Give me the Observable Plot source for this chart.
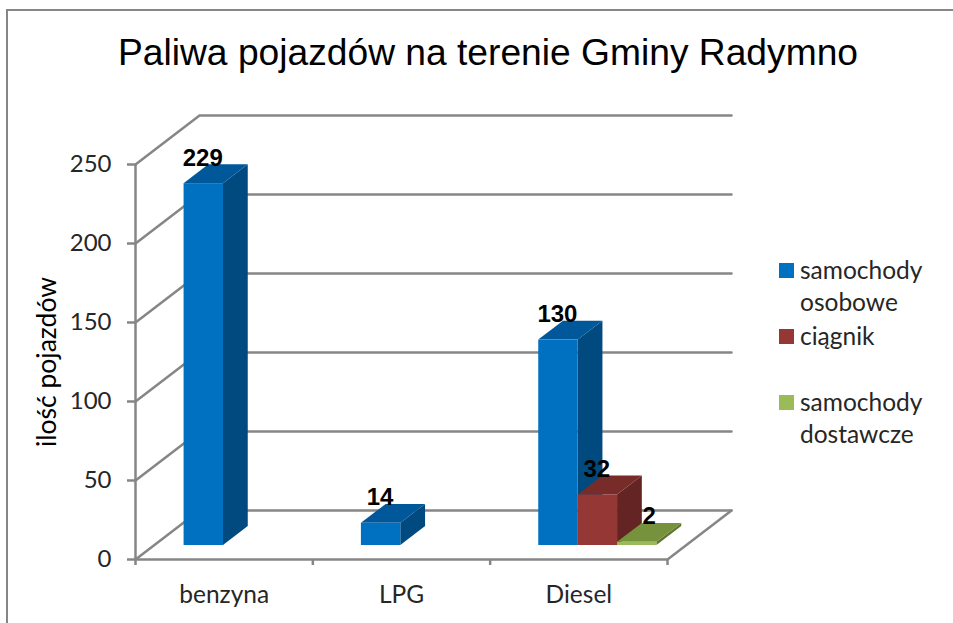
<!DOCTYPE html>
<html lang="pl">
<head>
<meta charset="utf-8">
<script src="https://cdn.jsdelivr.net/npm/d3@7"></script>
<script src="https://cdn.jsdelivr.net/npm/@observablehq/plot@0.6"></script>
<style>
  html, body { margin: 0; padding: 0; background: #fff; }
  #chart { position: relative; width: 953px; height: 623px; overflow: hidden; }
  #frame { position: absolute; left: 6px; top: 9px; width: 960px; height: 640px; box-sizing: border-box;
           border-left: 2.5px solid #868686; border-top: 2.5px solid #868686; }
  #title { position: absolute; left: 0; top: 29px; width: 976px; text-align: center; margin: 0;
           font: 400 37.2px "Liberation Sans", sans-serif; color: #000; line-height: 46px; }
  #legend { position: absolute; left: 779px; top: 254px; }
  .item { display: flex; height: 66px; align-items: flex-start; }
  .sw { width: 15px; height: 15px; margin-top: 9px; flex: none; }
  .lab { margin-left: 6px; font: 400 24.5px/32px Lato, sans-serif; color: #262626; white-space: pre-line; }
  svg { position: absolute; left: 0; top: 0; }
</style>
</head>
<body>
<div id="chart">
  <div id="frame"></div>
  <h1 id="title"></h1>
  <div id="legend"></div>
</div>
<script>
const titleText = "Paliwa pojazdów na terenie Gminy Radymno";
const yLabel = "ilość pojazdów";
const categories = ["benzyna", "LPG", "Diesel"];
const seriesNames = ["samochody\nosobowe", "ciągnik", "samochody\ndostawcze"];
const osobowe = [229, 14, 130];
const ciagnik = [null, null, 32];
const dostawcze = [null, null, 2];
const yTicks = [0, 50, 100, 150, 200, 250];
const frontColors = ["#0070c0", "#953735", "#9bbb59"];
const sideColors = ["#004a80", "#632423", "#5f7530"];
const topColors = ["#00589a", "#772c2a", "#76923c"];

// 3-D projection of the floor depth, in data units
const DX = 0.361, DY = 31;          // shift at the full depth
const D0 = 0.286, D1 = 0.673;       // front and back of the bars
const W = 1 / 4.5;                  // bar width, gap 150%
const GRID = "#868686";

const values = [osobowe, ciagnik, dostawcze];
const bars = [];
values.forEach((vals, s) => vals.forEach((v, c) => {
  if (v == null) return;
  const x0 = c + 0.75 * W + s * W + 0.004;
  bars.push({id: s + "-" + c, s, c, v, x0, x1: x0 + W});
}));

const frontRows = bars.map(b => ({x1: b.x0 + D0 * DX, x2: b.x1 + D0 * DX, y1: D0 * DY, y2: b.v + D0 * DY, fill: frontColors[b.s]}));
const sideRows = bars.flatMap(b => [D0, D1].map(d => ({id: b.id, x: b.x1 + d * DX, y1: d * DY, y2: b.v + d * DY, fill: sideColors[b.s]})));
const topRows = bars.flatMap(b => [D0, D1].map(d => ({id: b.id, y: b.v + d * DY, x1: b.x0 + d * DX, x2: b.x1 + d * DX, fill: topColors[b.s]})));
const labelRows = bars.map(b => ({x: (b.x0 + b.x1) / 2 + D0 * DX, y: b.v + D0 * DY, v: b.v}));

const wallRows = yTicks.flatMap(t => [
  {id: t, x: 0, y: t},
  {id: t, x: DX, y: t + DY},
  {id: t, x: 3 + DX, y: t + DY}
]);
const floorRows = [
  {x: 3, y: 0},
  {x: 3 + DX, y: DY}
];

const labelFont = {fontFamily: "Liberation Sans, sans-serif", fontSize: 24, fontWeight: 700, fill: "#000", textAnchor: "middle", lineAnchor: "bottom"};

const plot = Plot.plot({
  width: 953,
  height: 623,
  marginLeft: 135,
  marginRight: 286,
  marginTop: 164,
  marginBottom: 64,
  x: {domain: [0, 3]},
  y: {domain: [0, 250]},
  color: {type: "identity"},
  style: {background: "transparent", overflow: "visible"},
  marks: [
    Plot.line(wallRows, {x: "x", y: "y", z: "id", stroke: GRID, strokeWidth: 2.5}),
    Plot.line(floorRows, {x: "x", y: "y", stroke: GRID, strokeWidth: 2.5}),
    Plot.ruleX([0], {y1: 0, y2: 250, stroke: GRID, strokeWidth: 2.5}),
    Plot.ruleY([0], {x1: 0, x2: 3, stroke: GRID, strokeWidth: 2.5}),
    Plot.areaY(sideRows, {x: "x", y1: "y1", y2: "y2", z: "id", fill: "fill"}),
    Plot.areaX(topRows, {y: "y", x1: "x1", x2: "x2", z: "id", fill: "fill"}),
    Plot.rect(frontRows, {x1: "x1", x2: "x2", y1: "y1", y2: "y2", fill: "fill"}),
    Plot.text(labelRows.filter(d => d.v > 2), {x: "x", y: "y", text: "v", dy: -18, dx: -1, ...labelFont}),
    Plot.text(labelRows.filter(d => d.v <= 2), {x: "x", y: "y", text: "v", dy: -18, dx: 12, ...labelFont}),
    Plot.axisY({
      ticks: yTicks, tickSize: 8, tickPadding: 16, stroke: GRID, strokeWidth: 2.5, fill: "#262626",
      label: null, fontSize: 24, fontFamily: "Lato, sans-serif"
    }),
    Plot.axisX({
      ticks: [0, 1, 2, 3], tickSize: 6, stroke: GRID, strokeWidth: 2.5, tickFormat: () => "", label: null
    }),
    Plot.axisX({
      ticks: [0.5, 1.5, 2.5], tickSize: 0, tickPadding: 26, fill: "#262626", label: null,
      tickFormat: d => categories[Math.floor(d)], fontSize: 24.5, fontFamily: "Lato, sans-serif"
    }),
    Plot.text([yLabel], {
      frameAnchor: "left", dx: -88, rotate: -90, text: d => d, textAnchor: "middle",
      fontSize: 26.5, fontFamily: "Lato, sans-serif", fill: "#000"
    })
  ]
});
const chart = document.getElementById("chart");
chart.insertBefore(plot, document.getElementById("title"));
document.getElementById("title").textContent = titleText;
const legend = document.getElementById("legend");
seriesNames.forEach((name, i) => {
  const item = document.createElement("div");
  item.className = "item";
  const sw = document.createElement("div");
  sw.className = "sw";
  sw.style.background = frontColors[i];
  const lab = document.createElement("div");
  lab.className = "lab";
  lab.textContent = name;
  item.append(sw, lab);
  legend.append(item);
});
</script>
</body>
</html>
